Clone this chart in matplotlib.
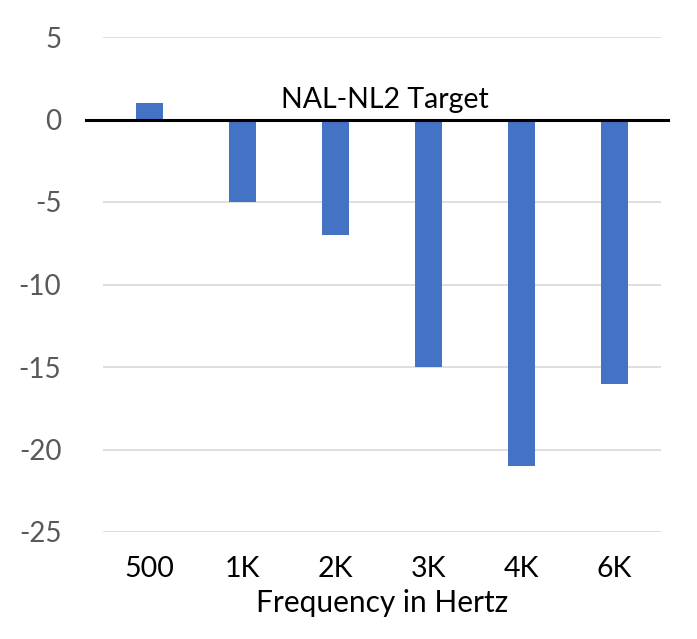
import matplotlib
matplotlib.use("Agg")
import matplotlib.pyplot as plt
import matplotlib.transforms as mtransforms

categories = ["500", "1K", "2K", "3K", "4K", "6K"]
values = [1, -5, -7, -15, -21, -16]
yticks = [5, 0, -5, -10, -15, -20, -25]
annotation = "NAL-NL2 Target"
xlabel = "Frequency in Hertz"

plt.rcParams['font.family'] = ['Lato', 'DejaVu Sans']

fig = plt.figure(figsize=(6.97, 6.39), dpi=100)
ax = fig.add_axes([103/697, 1-532/639, 558/697, (532-37)/639])

x = list(range(len(categories)))
ax.bar(x, values, width=0.3, color="#4472C4", zorder=3)
ax.set_xlim(-0.5, len(categories) - 0.5)
ax.set_ylim(-25, 5)
ax.set_yticks(yticks)
ax.set_yticklabels([str(t) for t in yticks])
ax.set_xticks(x)
ax.set_xticklabels(categories)
ax.grid(axis="y", color="#D9D9D9", linewidth=1.2, zorder=0)
ax.tick_params(axis="both", length=0)
ax.tick_params(axis="y", labelsize=20, labelcolor="#595959", pad=30)
ax.tick_params(axis="x", labelsize=20.5, labelcolor="black", pad=17)
for s in ax.spines.values():
    s.set_visible(False)

trans = mtransforms.blended_transform_factory(ax.transAxes, ax.transData)
ax.plot([-0.03, 1.0125], [0, 0], color="black", linewidth=2.2, transform=trans,
        clip_on=False, zorder=4)

ax.text(2.53, 0.4, annotation, ha="center", va="bottom", fontsize=20.5, color="black", zorder=5)
ax.set_xlabel(xlabel, fontsize=21.5, color="black", labelpad=5)

fig.savefig("out.png", dpi=100)
